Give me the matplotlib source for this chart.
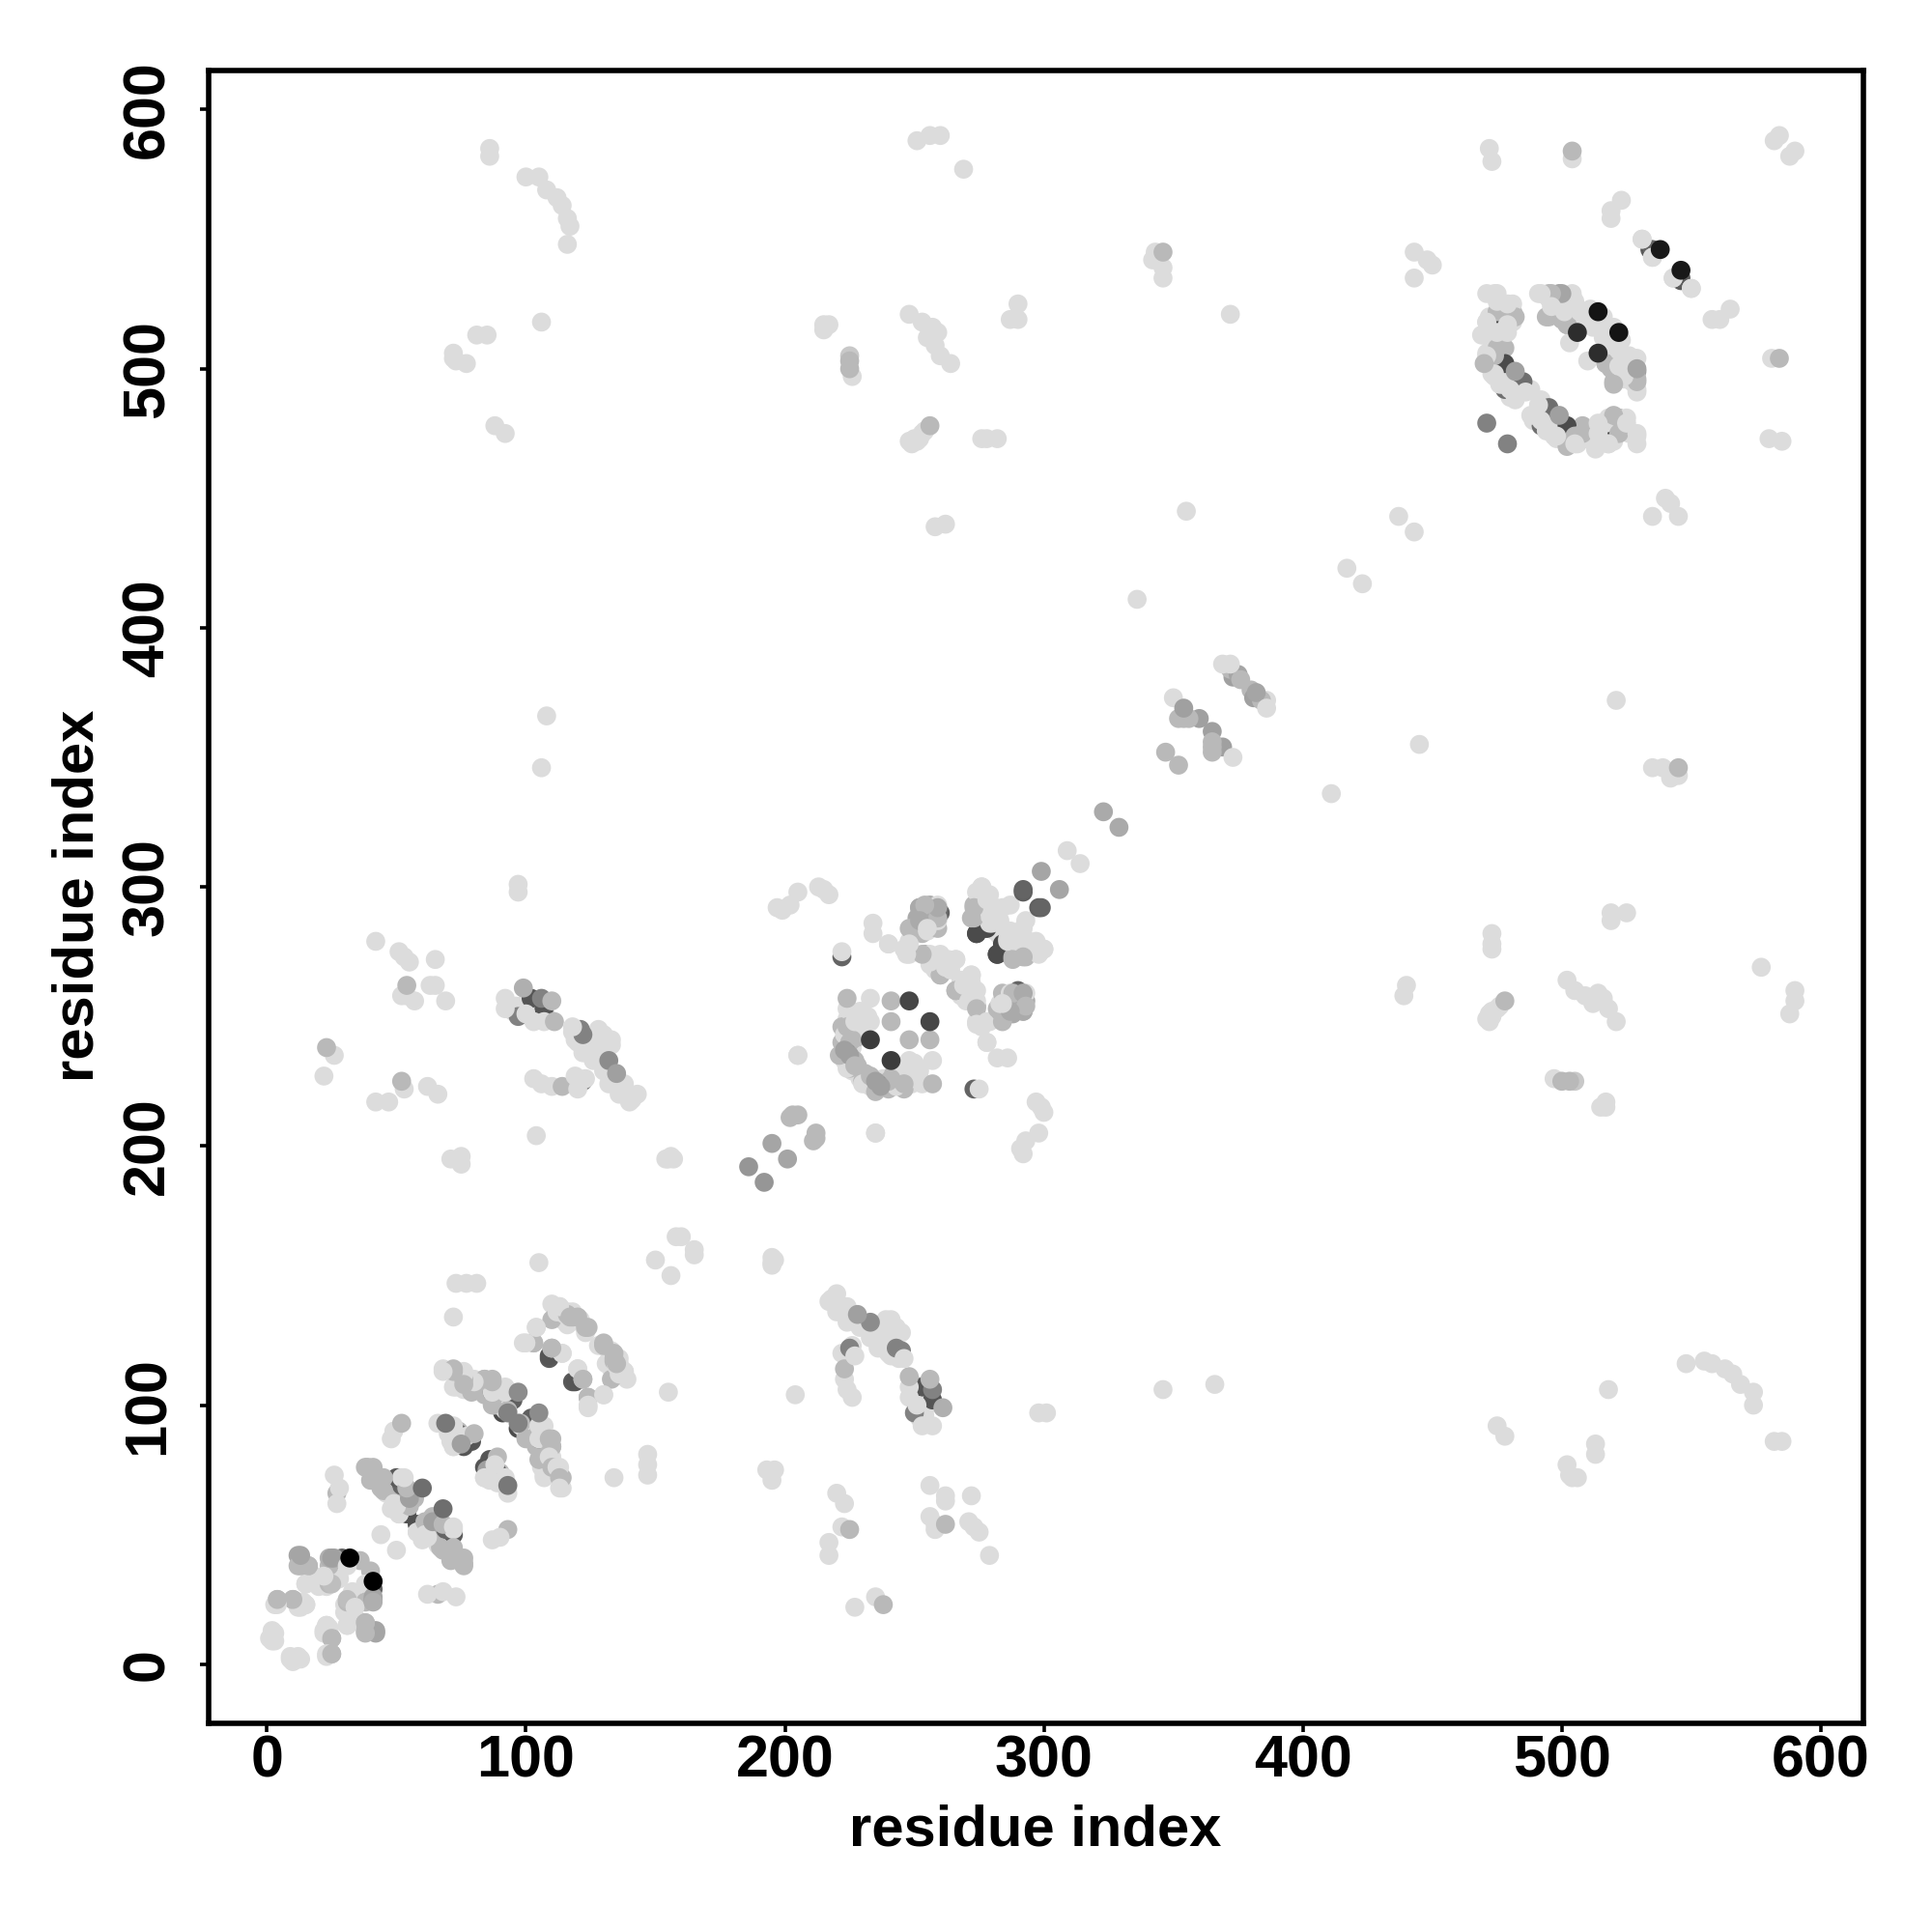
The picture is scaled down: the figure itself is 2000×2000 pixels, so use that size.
"""Residue contact map, symmetric, grey level shows contact strength"""

import numpy as np
import matplotlib
matplotlib.use('Agg')
import matplotlib.pyplot as plt

plt.rcParams['font.family'] = ['Liberation Sans', 'DejaVu Sans']

# -----------------------------------------------------------------------------
# grey levels
L, S, M = 220, 185, 160

# long range contacts, all pale
far_i = [86, 86, 100, 105, 108, 112, 114, 116, 117, 116, 106, 72, 72, 73, 77, 81, 85, 88, 92,
         108, 106, 97, 97, 42, 51, 53, 55, 65, 54, 52, 57, 63, 65, 69, 26, 22, 42, 47, 53, 62, 66,
         71, 75, 75, 73, 77, 81, 72, 104, 105, 157, 155, 156, 154,
         251, 256, 260, 269, 215, 217, 215, 226, 248, 253, 257, 259, 258, 260, 264, 256, 255,
         249, 251, 254, 276, 278, 282, 258, 262, 290, 287, 290, 343, 342, 346, 346, 372,
         443, 443, 448, 450, 472, 473, 504, 582, 584, 519, 519, 523, 437, 355, 336, 205, 234, 234, 240,
         417, 309, 150, 158, 160, 197, 199, 202, 205, 215, 217, 213, 250, 252, 253, 248]
far_j = [585, 582, 574, 574, 569, 566, 563, 558, 555, 548, 518, 506, 504, 503, 502, 513, 513, 478, 475,
         366, 346, 301, 298, 279, 275, 273, 271, 272, 258, 258, 256, 262, 262, 256, 235, 227, 217, 217, 222, 223, 220,
         195, 196, 193, 147, 147, 147, 134, 204, 155, 195, 195, 196, 195,
         588, 590, 590, 577, 517, 517, 515, 497, 521, 518, 516, 514, 509, 505, 502, 515, 512,
         471, 472, 476, 473, 473, 473, 439, 440, 525, 519, 519, 545, 542, 539, 535, 521,
         545, 535, 542, 540, 585, 580, 581, 588, 590, 561, 558, 565, 443, 445, 411, 235, 286, 282, 278,
         423, 314, 156, 165, 165, 292, 291, 293, 298, 299, 297, 300, 473, 473, 475, 472]

# long range contacts a little darker, and the small pairs along the diagonal
mid_i = [504, 346, 54, 52, 23, 225, 225, 225, 256, 186, 195, 202, 205, 203, 323]
mid_j = [584, 545, 262, 225, 238, 505, 503, 500, 478, 192, 201, 211, 212, 212, 329]
mid_g = [S, S, S, S, S, 200, S, S, S, 150, 165, S, S, S, 170]

# first helices, bottom left corner
low_i = [13, 13, 16, 15, 24, 26, 22, 25, 4, 4, 10, 15, 24, 22, 25, 24, 15, 15, 13, 10, 16, 12, 12,
         2, 2, 2, 2, 3, 4, 29, 31]
low_j = [42, 38, 38, 31, 41, 41, 34, 31, 25, 23, 25, 23, 31, 33, 41, 38, 31, 23, 22, 25, 38, 38, 42,
         11, 9, 10, 12, 23, 25, 41, 38]
low_g = [165, S, S, L, 175, 165, L, 190, S, L, S, L, S, L, M, S, L, L, L, S, S, S, 165,
         L, L, L, L, L, S, 100, L]

strand_a_i = [39, 41, 40, 45, 44, 50, 53, 54, 55, 57, 50, 55, 54, 51, 54, 52, 52, 49, 45, 41, 38, 51,
              48, 49, 52, 26, 28, 27, 27, 44]
strand_a_j = [76, 76, 71, 72, 68, 72, 72, 68, 64, 64, 61, 61, 59, 58, 58, 69, 72, 62, 67, 72, 76, 58,
              87, 90, 93, 73, 68, 66, 62, 50]
strand_a_g = [S, S, S, S, S, 90, L, S, M, S, L, S, 80, L, 80, 100, L, L, S, S, S, L,
              L, L, S, L, L, S, L, L]

strand_b_i = [75, 74, 72, 79, 76, 66, 70, 72, 77, 71, 72, 72, 80]
strand_b_j = [85, 89, 89, 86, 84, 93, 89, 84, 88, 86, 92, 84, 89]
strand_b_g = [M, 90, 90, 85, 85, L, L, L, L, L, L, L, S]

strand_c_i = [68, 72, 76, 76, 72, 80, 84, 87, 79, 87, 92, 95, 93, 87, 91, 92, 92, 88, 87, 87, 84, 79,
              80, 73, 76, 76, 72, 68]
strand_c_j = [113, 113, 112, 110, 107, 109, 110, 109, 106, 105, 105, 102, 98, 100, 97, 98, 107, 100, 105, 110,
              110, 105, 110, 107, 108, 113, 114, 114]
strand_c_g = [L, S, L, S, L, L, S, S, S, L, L, 95, S, S, 75, L, L, S, 95, S, S, S, L, L, S, L, S, L]

strand_d_i = [109, 109, 124, 120, 116, 112, 104, 100, 103, 110, 114, 123, 118, 113, 115, 110, 114, 110, 103, 99, 104,
              110, 113, 116, 117]
strand_d_j = [118, 119, 130, 134, 135, 136, 130, 124, 124, 122, 120, 130, 134, 138, 135, 133, 120, 122, 124, 124, 130,
              139, 138, 136, 134]
strand_d_g = [90, 85, S, S, S, L, L, L, S, S, L, S, S, L, L, S, L, S, S, L, L, L, L, L, S]

# contacts between the first helices and the 220-260 stretch
mid_block_i = [102, 107, 106, 97, 99, 92, 92, 110, 100, 103, 107, 111,
               121, 122, 132, 135, 118, 119, 122, 125, 128, 133, 129, 126, 130, 132, 136, 140, 143, 138,
               103, 106, 110, 114, 122, 119, 123, 120]
mid_block_j = [257, 253, 257, 250, 261, 257, 253, 256, 251, 248, 248, 248,
               245, 243, 233, 228, 246, 241, 236, 238, 245, 241, 240, 233, 229, 224, 220, 217, 220, 224,
               226, 224, 223, 223, 225, 227, 226, 222]
mid_block_g = [85, 85, 130, 130, 175, L, L, S, L, L, L, S,
               130, 130, 140, M, L, L, L, L, L, L, L, L, L, L, L, L, L, L,
               L, L, L, S, 130, L, L, L]

# block around residues 220-300
ring_a_i = [241, 233, 241, 224, 233, 223, 225, 221, 227, 224, 231, 228, 224, 225, 226, 224, 226, 230, 228, 223,
            224, 222, 222, 227, 205]
ring_a_j = [256, 257, 248, 257, 248, 237, 235, 235, 233, 230, 227, 231, 236, 240, 241, 246, 250, 250, 245, 243,
            253, 273, 275, 248, 235]
ring_a_g = [S, L, S, S, L, M, M, S, S, L, S, S, 140, S, S, S, L, L, L, L,
            L, 100, L, L, L]

ring_b_i = [260, 252, 251, 256, 252, 248, 253, 255, 259, 259, 259, 259, 259, 254, 252, 255, 247, 246, 248, 253, 256, 259, 261,
            266, 260, 248, 248, 240, 254, 252, 253, 260, 262, 263, 260, 256, 256, 266, 264]
ring_b_j = [290, 292, 288, 293, 283, 284, 282, 283, 284, 287, 293, 288, 292, 293, 287, 284, 274, 276, 278, 274, 273, 273, 272,
            272, 266, 274, 279, 278, 274, 292, 287, 266, 269, 272, 274, 271, 274, 272, 268]
ring_b_g = [100, 170, 170, 170, S, S, S, L, S, L, L, S, 170, S, 170, L, L, L, L, S, L, L, L,
            L, S, L, L, L, 170, 170, 170, S, L, L, L, L, L, L, L]

ring_c_i = [274, 278, 274, 277, 272, 273, 276, 274, 276, 278, 280, 284, 279, 279, 273, 273, 278, 279, 276, 287]
ring_c_j = [282, 284, 282, 284, 288, 292, 300, 298, 295, 292, 286, 292, 286, 289, 288, 293, 295, 297, 300, 293]
ring_c_g = [70, 70, 75, 75, S, S, L, L, L, L, L, L, L, L, S, S, L, L, L, L]

# helices near 350-385
helix_i = [354, 360, 354, 352, 356, 347, 350, 373, 372, 375, 369, 376, 372]
helix_j = [369, 365, 365, 365, 365, 352, 373, 381, 384, 382, 386, 380, 386]
helix_g = [M, M, S, S, S, S, L, M, S, 165, L, S, L]

# eye shaped block around residues 470-530
eye_a_i = [474, 478, 482, 485, 478, 475, 475, 474, 482, 475, 471, 479, 471, 469, 475, 479, 471, 474, 470, 473, 476, 480, 486, 482,
           477, 474, 471, 471, 474, 474, 470, 471, 481, 481, 481, 474, 471, 479, 475]
eye_a_j = [517, 502, 499, 495, 492, 522, 508, 505, 520, 529, 529, 525, 518, 513, 514, 514, 505, 498, 502, 498, 494, 492, 491, 488,
           494, 497, 502, 506, 506, 510, 513, 518, 518, 522, 525, 529, 479, 517, 526]
eye_a_g = [70, 75, M, 110, 110, S, S, S, S, L, L, L, L, L, L, L, L, L, S, L, L, L, L, L,
           L, L, S, L, S, L, L, L, L, S, L, L, 130, L, L]

eye_b_i = [492, 496, 500, 504, 494, 497, 501, 507, 511, 502, 503, 511, 502, 505, 511, 495, 503, 504, 499, 495, 491, 496]
eye_b_j = [529, 529, 529, 528, 520, 524, 522, 522, 519, 517, 510, 518, 517, 521, 523, 520, 526, 529, 529, 529, 529, 524]
eye_b_g = [L, S, 165, L, S, L, L, L, L, S, L, L, S, L, L, S, L, L, M, S, L, L]

# short stretch near 530-550
tail_i = [531, 535, 535, 543, 546, 550]
tail_j = [550, 546, 543, 535, 534, 531]
tail_g = [L, 100, L, L, 90, L]

# pale contacts that fill the dense patches
fill_i = [19, 20, 22, 14, 13, 12, 17, 3, 3, 1, 2, 23, 28, 26,
          46, 48, 52, 50, 46, 48, 71, 78, 73, 75,
          76, 78, 85, 90, 89, 93,
          118, 121, 122, 123, 118, 113, 114, 116,
          118, 120, 123, 125, 127, 130, 131, 134, 128, 130, 133, 135, 137, 139, 141, 108, 104, 96, 95, 100, 104,
          276, 275, 277, 279, 281, 283, 286, 290, 292, 295, 297, 283, 262, 264, 256, 258,
          226, 225, 229, 224, 226, 229, 232, 223, 226, 224,
          472, 473, 476, 478, 481, 484, 480, 488, 475, 473, 476, 479, 481, 477, 474,
          495, 498, 500, 503, 505, 506, 508, 510, 512, 516, 518, 519, 516, 505]
fill_j = [33, 30, 31, 24, 24, 22, 35, 9, 12, 10, 13, 30, 33, 32,
          70, 66, 64, 64, 66, 60, 90, 87, 87, 87,
          106, 109, 107, 103, 105, 103,
          136, 133, 131, 128, 133, 135, 133, 131,
          244, 240, 240, 236, 235, 236, 231, 226, 242, 243, 239, 225, 222, 219, 218, 250, 251, 254, 252, 255, 253,
          290, 292, 298, 294, 290, 287, 280, 278, 281, 276, 276, 281, 272, 270, 270, 268,
          238, 244, 247, 249, 252, 252, 250, 233, 229, 245,
          520, 510, 500, 497, 494, 493, 489, 492, 502, 506, 512, 520, 522, 525, 515,
          527, 526, 525, 520, 518, 516, 520, 522, 520, 520, 515, 510, 512, 526]

fill_silver_i = [36, 50, 74, 82, 90, 84, 228, 222, 222, 225, 230, 478, 498, 500]
fill_silver_j = [40, 66, 90, 108, 100, 104, 242, 240, 246, 231, 225, 508, 522, 519]

# the strong contacts that lie on top of the others
top_i = [32, 514, 506, 538, 60, 97, 69, 93, 248, 233, 299, 292, 292]
top_j = [41, 522, 514, 546, 68, 105, 93, 97, 256, 241, 306, 298, 299]
top_g = [0, 20, 45, 25, 110, 140, 120, 130, 70, 60, 165, 95, 100]

tick_values = [0, 100, 200, 300, 400, 500, 600]
axis_label = 'residue index'

# -----------------------------------------------------------------------------

def mirrored(i, j):
    """Contacts are symmetric, so return the point set for both triangles"""
    i, j = np.array(i, dtype=float), np.array(j, dtype=float)
    return np.concatenate([i, j]), np.concatenate([j, i])


def draw(ax, i, j, g, *, dark_first: bool=False):
    """Scatter one set of contacts in both triangles"""
    x, y = mirrored(i, j)
    g = np.array(list(g)*2, dtype=float)
    if dark_first:
        order = np.argsort(g < 130)[::-1]
        x, y, g = x[order], y[order], g[order]
    ax.scatter(x, y, c=g, cmap='gray', vmin=0, vmax=255, s=50, linewidths=0)


fig = plt.figure(figsize=(10, 10), dpi=200)
ax = fig.add_axes([216.3/2000, 1 - 1783.7/2000, (1928.6 - 216.3)/2000, (1783.7 - 72.7)/2000])

# The pale filler lies at the bottom, so it does not hide the darker marks
draw(ax, fill_i, fill_j, [L]*len(fill_i))
draw(ax, fill_silver_i, fill_silver_j, [S]*len(fill_silver_i))
draw(ax, far_i, far_j, [L]*len(far_i))

for i, j, g in [(mid_i, mid_j, mid_g),
                (low_i, low_j, low_g),
                (strand_a_i, strand_a_j, strand_a_g),
                (strand_b_i, strand_b_j, strand_b_g),
                (strand_c_i, strand_c_j, strand_c_g),
                (strand_d_i, strand_d_j, strand_d_g),
                (mid_block_i, mid_block_j, mid_block_g),
                (ring_a_i, ring_a_j, ring_a_g),
                (ring_b_i, ring_b_j, ring_b_g),
                (ring_c_i, ring_c_j, ring_c_g),
                (helix_i, helix_j, helix_g),
                (eye_a_i, eye_a_j, eye_a_g),
                (eye_b_i, eye_b_j, eye_b_g),
                (tail_i, tail_j, tail_g)]:
    draw(ax, i, j, g, dark_first=True)

draw(ax, top_i, top_j, top_g)

ax.set_xlim(-22.4, 616.3)
ax.set_ylim(-22.7, 615.2)
ax.set_xticks(tick_values)
ax.set_yticks(tick_values)
ax.tick_params(axis='x', length=3.2, width=1.3, labelsize=22, pad=1)
ax.tick_params(axis='y', length=3.2, width=1.3, labelsize=22, pad=9)
for label in ax.get_xticklabels() + ax.get_yticklabels():
    label.set_fontweight('bold')
for label in ax.get_yticklabels():
    label.set_rotation(90)
    label.set_va('center')
for spine in ax.spines.values():
    spine.set_linewidth(2.0)

fig.text(1072/2000, 1 - 1895/2000, axis_label, fontsize=21.5, fontweight='bold',
         ha='center', va='center')
fig.text(81/2000, 1 - 927/2000, axis_label, fontsize=21.5, fontweight='bold',
         rotation=90, ha='center', va='center')

fig.savefig('out.png')
plt.close(fig)
